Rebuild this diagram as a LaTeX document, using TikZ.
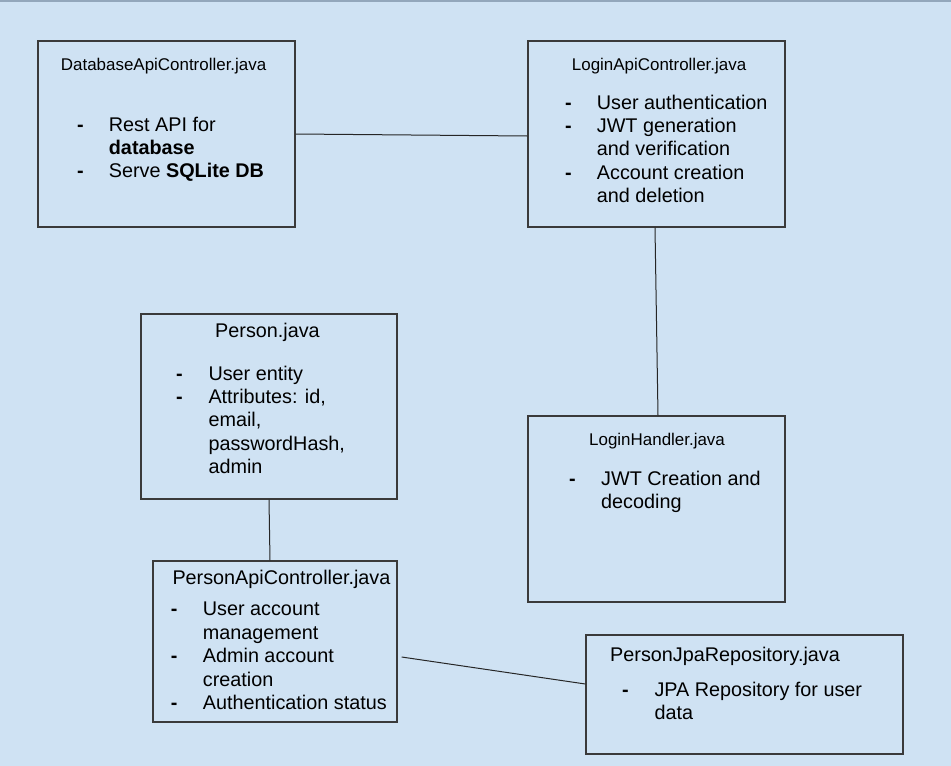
\documentclass[tikz,border=0pt]{standalone}
\usepackage{fontspec}
\setmainfont{Liberation Sans}
\definecolor{bgblue}{HTML}{CFE2F3}
\definecolor{edgegrey}{HTML}{3A3A3A}
\definecolor{topline}{HTML}{93A7BB}
\begin{document}
\begin{tikzpicture}[x=1pt,y=-1pt,
  box/.style={draw=edgegrey, line width=1.3pt, inner sep=0pt},
  body/.style={anchor=base west, inner sep=0pt, text=black, font=\fontsize{19.8}{23.4}\selectfont},
  small/.style={anchor=base west, inner sep=0pt, text=black, font=\fontsize{16.95}{20}\selectfont},
  dsh/.style={anchor=base west, inner sep=0pt, text=black, font=\fontsize{19.8}{23.4}\selectfont\bfseries},
  conn/.style={draw=black!85, line width=1pt}]
\useasboundingbox (0,0) rectangle (951,766);
\fill[bgblue] (0,0) rectangle (951,766);
\fill[topline] (0,0) rectangle (951,1.6);

% boxes
\node[box, minimum width=257pt, minimum height=186pt] (db) at (166.5,134) {};
\node[box, minimum width=257pt, minimum height=186pt] (login) at (656.5,134) {};
\node[box, minimum width=256pt, minimum height=185pt] (person) at (269,406.5) {};
\node[box, minimum width=257pt, minimum height=186pt] (lh) at (656.5,509) {};
\node[box, minimum width=244pt, minimum height=161pt] (papi) at (275,641.5) {};
\node[box, minimum width=317pt, minimum height=119pt] (jpa) at (744.5,694.5) {};

% connectors
\draw[conn] (db.east) -- ([yshift=-2pt]login.west);
\draw[conn] ([xshift=-1.5pt]login.south) -- ([xshift=1.5pt]lh.north);
\draw[conn] (person.south) -- ([xshift=-5pt]papi.north);
\draw[conn] ([xshift=4pt,yshift=-15.5pt]papi.east) -- ([yshift=10.5pt]jpa.west);

% DatabaseApiController
\node[small] (dbt) at (60.7,70) {DatabaseApiController.java};
\node[dsh] (dbd1) at (77,131) {-};
\node[body] (dbl1) at (108.7,131) {Rest API for};
\node[body] (dbl2) at (108.7,154.4) {\textbf{database}};
\node[dsh] (dbd2) at (77,177.8) {-};
\node[body] (dbl3) at (108.7,177.8) {Serve \textbf{SQLite DB}};

% LoginApiController
\node[small] (lgt) at (571.7,70) {LoginApiController.java};
\node[dsh] (lgd1) at (565,109) {-};
\node[body] (lgl1) at (596.7,109) {User authentication};
\node[dsh] (lgd2) at (565,132.4) {-};
\node[body] (lgl2) at (596.7,132.4) {JWT generation};
\node[body] (lgl3) at (596.7,155.8) {and verification};
\node[dsh] (lgd3) at (565,179.2) {-};
\node[body] (lgl4) at (596.7,179.2) {Account creation};
\node[body] (lgl5) at (596.7,202.8) {and deletion};

% Person
\node[body] (pt) at (215,337.3) {Person.java};
\node[dsh] (pd1) at (176,380) {-};
\node[body] (pl1) at (208.3,380) {User entity};
\node[dsh] (pd2) at (176,403.4) {-};
\node[body] (pl2) at (208.3,403.4) {Attributes: id,};
\node[body] (pl3) at (208.3,426.8) {email,};
\node[body] (pl4) at (208.3,450.2) {passwordHash,};
\node[body] (pl5) at (208.3,473.8) {admin};

% LoginHandler
\node[small] (lht) at (589,445) {LoginHandler.java};
\node[dsh] (lhd1) at (569,485) {-};
\node[body] (lhl1) at (601,485) {JWT Creation and};
\node[body] (lhl2) at (601,508.3) {decoding};

% PersonApiController
\node[body] (pat) at (172.3,584.3) {PersonApiController.java};
\node[dsh] (pad1) at (170.7,615.8) {-};
\node[body] (pal1) at (202.7,615.8) {User account};
\node[body] (pal2) at (202.7,639.2) {management};
\node[dsh] (pad2) at (170.7,662.6) {-};
\node[body] (pal3) at (202.7,662.6) {Admin account};
\node[body] (pal4) at (202.7,686) {creation};
\node[dsh] (pad3) at (170.7,709.8) {-};
\node[body] (pal5) at (202.7,709.8) {Authentication status};

% PersonJpaRepository
\node[body] (jt) at (610,661.7) {PersonJpaRepository.java};
\node[dsh] (jd1) at (622,696) {-};
\node[body] (jl1) at (654.3,696) {JPA Repository for user};
\node[body] (jl2) at (654.3,719.4) {data};
\end{tikzpicture}
\end{document}
